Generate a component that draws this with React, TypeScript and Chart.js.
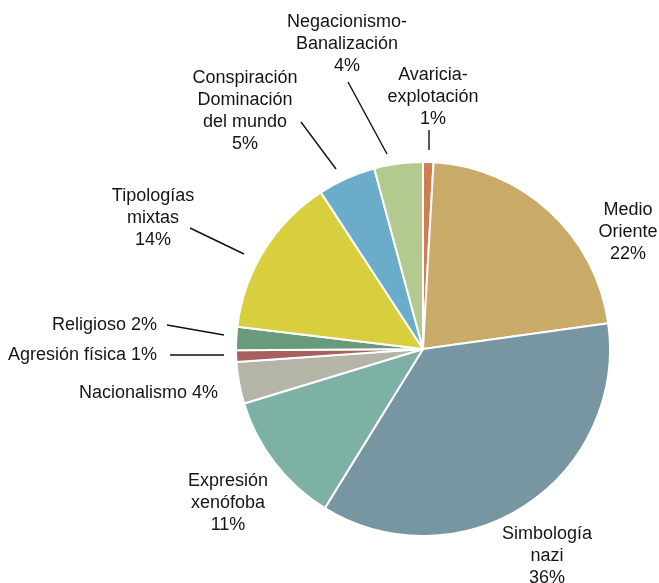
import React, { useEffect, useRef } from "react";
import { Chart, registerables } from "chart.js";

Chart.register(...registerables);

// Categories in drawing order (clockwise from 12 o'clock)
const categories = [
  "Avaricia-explotación",
  "Medio Oriente",
  "Simbología nazi",
  "Expresión xenófoba",
  "Nacionalismo",
  "Agresión física",
  "Religioso",
  "Tipologías mixtas",
  "Conspiración Dominación del mundo",
  "Negacionismo-Banalización",
];

// Slice shares (%)
const shares = [0.9, 21.9, 36.0, 11.5, 3.6, 1.0, 2.0, 13.9, 5.0, 4.2];

// Percent labels as printed
const shownPercents = ["1%", "22%", "36%", "11%", "4%", "1%", "2%", "14%", "5%", "4%"];

const sliceColors = [
  "#D17D52",
  "#C9AA68",
  "#7895A2",
  "#7DB1A6",
  "#B5B5A7",
  "#A6605F",
  "#699A7C",
  "#D8CF3E",
  "#6AACC9",
  "#B4C990",
];

type LabelLayout = {
  lines: (pct: string) => string[];
  dx: number;
  dy: number;
  align: CanvasTextAlign;
  leader?: [number, number, number, number];
};

const labelLayouts: LabelLayout[] = [
  { lines: (p) => ["Avaricia-", "explotación", p], dx: 10, dy: -274, align: "center", leader: [6, -219, 6, -199] },
  { lines: (p) => ["Medio", "Oriente", p], dx: 205, dy: -139, align: "center" },
  { lines: (p) => ["Simbología", "nazi", p], dx: 124, dy: 185, align: "center" },
  { lines: (p) => ["Expresión", "xenófoba", p], dx: -195, dy: 132, align: "center" },
  { lines: (p) => ["Nacionalismo " + p], dx: -205, dy: 44, align: "right" },
  { lines: (p) => ["Agresión física " + p], dx: -266, dy: 6, align: "right", leader: [-253, 6, -199, 6] },
  { lines: (p) => ["Religioso " + p], dx: -266, dy: -24, align: "right", leader: [-256, -24, -199, -14] },
  { lines: (p) => ["Tipologías", "mixtas", p], dx: -270, dy: -153, align: "center", leader: [-233, -121, -179, -95] },
  { lines: (p) => ["Conspiración", "Dominación", "del mundo", p], dx: -178, dy: -271, align: "center", leader: [-122, -227, -87, -180] },
  { lines: (p) => ["Negacionismo-", "Banalización", p], dx: -76, dy: -327, align: "center", leader: [-75, -267, -36, -195] },
];

const FONT = '18px "Liberation Sans", Arial, sans-serif';
const LINE_H = 22;

const labelPlugin = {
  id: "pieLabels",
  afterDraw(chart: any) {
    const meta = chart.getDatasetMeta(0);
    if (!meta || !meta.data.length) return;
    const arc = meta.data[0];
    const cx = arc.x;
    const cy = arc.y;
    const ctx = chart.ctx as CanvasRenderingContext2D;
    ctx.save();
    ctx.font = FONT;
    ctx.fillStyle = "#151515";
    ctx.textBaseline = "middle";
    ctx.strokeStyle = "#111111";
    ctx.lineWidth = 1.4;
    labelLayouts.forEach((lay, i) => {
      const lines = lay.lines(shownPercents[i]);
      ctx.textAlign = lay.align;
      lines.forEach((t, k) => {
        ctx.fillText(t, cx + lay.dx, cy + lay.dy + k * LINE_H);
      });
      if (lay.leader) {
        const [x1, y1, x2, y2] = lay.leader;
        ctx.beginPath();
        ctx.moveTo(cx + x1, cy + y1);
        ctx.lineTo(cx + x2, cy + y2);
        ctx.stroke();
      }
    });
    ctx.restore();
  },
};

export default function App() {
  const ref = useRef<HTMLCanvasElement | null>(null);
  useEffect(() => {
    document.body.style.margin = "0";
    const canvas = ref.current;
    if (!canvas) return;
    const chart = new Chart(canvas, {
      type: "pie",
      data: {
        labels: categories,
        datasets: [
          {
            data: shares,
            backgroundColor: sliceColors,
            borderColor: "#ffffff",
            borderWidth: 2,
            hoverOffset: 0,
          },
        ],
      },
      options: {
        responsive: false,
        animation: false,
        radius: 187,
        layout: { padding: { left: 200, right: 13, top: 130, bottom: 15 } },
        plugins: {
          legend: { display: false },
          tooltip: { enabled: false },
        },
        events: [],
      } as any,
      plugins: [labelPlugin],
    });
    return () => chart.destroy();
  }, []);
  return (
    <div style={{ width: 659, height: 583, background: "#ffffff" }}>
      <canvas ref={ref} width={659} height={583} style={{ display: "block" }} />
    </div>
  );
}
